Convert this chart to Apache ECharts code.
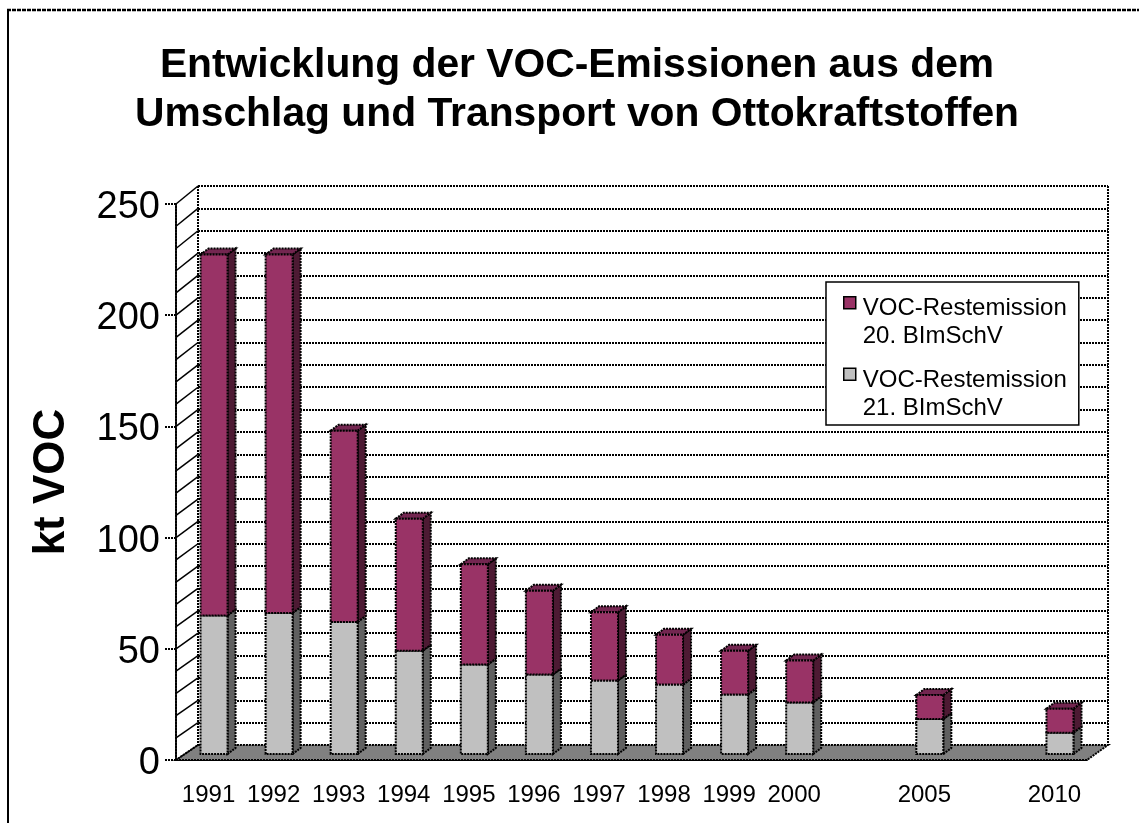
<!DOCTYPE html>
<html>
<head>
<meta charset="utf-8">
<title>VOC-Emissionen</title>
<script src="https://cdn.jsdelivr.net/npm/echarts@6/dist/echarts.min.js"></script>
<style>
  html, body { margin: 0; background: #fff; }
  #chart { width: 1139px; height: 823px; }
</style>
</head>
<body>
<div id="chart"></div>
<script>
const categories = ['1991', '1992', '1993', '1994', '1995', '1996', '1997', '1998', '1999', '2000', '', '2005', '', '2010'];
const rest21 = [62.3, 63.4, 59.4, 46.4, 40.2, 35.7, 33, 31.2, 26.8, 23.2, null, 15.7, null, 9.6];
const rest20 = [162.3, 161.2, 86, 59.4, 45.1, 37.7, 30.7, 22.4, 19.6, 18.8, null, 10.8, null, 10.8];
const wallLevels = [0, 10, 20, 30, 40, 50, 60, 70, 80, 90, 100, 110, 120, 130, 140, 150, 160, 170, 180, 190, 200, 210, 220, 230, 240, 250];

const NAME_20 = 'VOC-Restemission\n20. BImSchV';
const NAME_21 = 'VOC-Restemission\n21. BImSchV';
const FONT = '"Liberation Sans", Arial, sans-serif';
const DASH = [2, 1];

const myChart = echarts.init(document.getElementById('chart'), null, { renderer: 'canvas' });

// one 3d box: front face, side face and (only on the top segment) a lid
function boxRenderer(front, side, lid) {
  return function (params, api) {
    if (api.value(2) == null || isNaN(api.value(2))) return;
    const i = api.value(0);
    const low = api.coord([i, api.value(1)]);
    const high = api.coord([i, api.value(2)]);
    const x0 = low[0] - 8;
    const x1 = low[0] + 19;
    const yb = low[1] - 6;
    const yt = high[1] - 6;
    const edge = { stroke: '#000', lineWidth: 2, lineDash: DASH };
    const children = [
      { type: 'polygon', shape: { points: [[x1, yb], [x1 + 8, yb - 6], [x1 + 8, yt - 6], [x1, yt]] }, style: Object.assign({ fill: side }, edge) }
    ];
    if (lid) {
      children.push({ type: 'polygon', shape: { points: [[x0, yt], [x0 + 8, yt - 6], [x1 + 8, yt - 6], [x1, yt]] }, style: Object.assign({ fill: lid }, edge) });
    }
    children.push({ type: 'rect', shape: { x: x0, y: yt, width: x1 - x0, height: yb - yt }, style: Object.assign({ fill: front }, edge) });
    return { type: 'group', children: children };
  };
}

const option = {
  animation: false,
  backgroundColor: '#fff',
  title: {
    text: 'Entwicklung der VOC-Emissionen aus dem\nUmschlag und Transport von Ottokraftstoffen',
    left: 577,
    top: 41,
    padding: 0,
    textAlign: 'center',
    textStyle: { fontFamily: FONT, fontSize: 40.8, fontWeight: 'bold', lineHeight: 49, color: '#000' }
  },
  legend: {
    orient: 'vertical',
    left: 826,
    top: 282,
    padding: [12, 12, 2, 17],
    itemGap: 14,
    itemWidth: 12,
    itemHeight: 56,
    selectedMode: false,
    backgroundColor: '#fff',
    borderColor: '#000',
    borderWidth: 1.5,
    itemStyle: { borderColor: '#000', borderWidth: 1.5 },
    textStyle: { fontFamily: FONT, fontSize: 24, lineHeight: 28, color: '#000', padding: [0, 0, 0, 2] },
    data: [
      { name: NAME_20, icon: 'path://M0 0M0 2H12V14H0ZM12 56' },
      { name: NAME_21, icon: 'path://M0 0M0 2H12V14H0ZM12 56' }
    ]
  },
  graphic: [
    { type: 'line', shape: { x1: 7, y1: 10, x2: 1139, y2: 10 }, style: { stroke: '#000', lineWidth: 2.5, lineDash: [4, 1] } },
    { type: 'line', shape: { x1: 8, y1: 10, x2: 8, y2: 823 }, style: { stroke: '#000', lineWidth: 2 } }
  ],
  grid: [
    { left: 198, top: 186, width: 910, height: 559 },
    { left: 176, top: 204, width: 911, height: 556 }
  ],
  xAxis: [
    {
      gridIndex: 0,
      type: 'value',
      min: 0,
      max: 1,
      interval: 1,
      axisLine: { show: false },
      axisTick: { show: false },
      axisLabel: { show: false },
      splitLine: { show: true, lineStyle: { color: '#000', width: 2, type: DASH } }
    },
    {
      gridIndex: 1,
      type: 'category',
      data: categories,
      boundaryGap: true,
      axisLine: { lineStyle: { color: '#000', width: 2, type: DASH } },
      axisTick: { length: 11, interval: 0, lineStyle: { color: '#000', width: 2, type: DASH } },
      axisLabel: { interval: 0, margin: 23, fontFamily: FONT, fontSize: 24, color: '#000' },
      splitLine: { show: false }
    }
  ],
  yAxis: [
    {
      gridIndex: 0,
      type: 'value',
      min: 0,
      max: 250,
      interval: 10,
      axisLine: { show: false },
      axisTick: { show: false },
      axisLabel: { show: false },
      splitLine: { show: true, lineStyle: { color: '#000', width: 2, type: DASH } }
    },
    {
      gridIndex: 1,
      type: 'value',
      min: 0,
      max: 250,
      interval: 50,
      name: 'kt VOC',
      nameLocation: 'middle',
      nameGap: 102,
      nameRotate: 90,
      nameTextStyle: { fontFamily: FONT, fontSize: 44, fontWeight: 'bold', color: '#000' },
      axisLine: { show: true, lineStyle: { color: '#000', width: 2, type: DASH } },
      axisTick: { show: true, length: 11, lineStyle: { color: '#000', width: 2, type: DASH } },
      axisLabel: { margin: 16, fontFamily: FONT, fontSize: 38, color: '#000', verticalAlign: 'top', lineHeight: 7 },
      splitLine: { show: false }
    }
  ],
  series: [
    {
      // floor plate
      type: 'custom',
      xAxisIndex: 1,
      yAxisIndex: 1,
      silent: true,
      z: 1,
      data: [0],
      renderItem: function (params, api) {
        const g = params.coordSys;
        const y = g.y + g.height;
        return {
          type: 'polygon',
          shape: { points: [[g.x, y], [g.x + g.width, y], [g.x + g.width + 21, y - 15], [g.x + 22, y - 15]] },
          style: { fill: '#808080', stroke: '#000', lineWidth: 2, lineDash: DASH }
        };
      }
    },
    {
      // slanted lines on the left wall
      type: 'custom',
      xAxisIndex: 1,
      yAxisIndex: 1,
      silent: true,
      z: 1,
      encode: { y: 0 },
      data: wallLevels,
      renderItem: function (params, api) {
        const v = api.value(0);
        const x = params.coordSys.x;
        const y = api.coord([0, v])[1];
        return {
          type: 'line',
          shape: { x1: x, y1: y, x2: x + 22, y2: y - 15 - 3 * v / 250 },
          style: { stroke: '#000', lineWidth: 1.5 }
        };
      }
    },
    {
      name: NAME_21,
      type: 'custom',
      xAxisIndex: 1,
      yAxisIndex: 1,
      silent: true,
      z: 3,
      itemStyle: { color: '#c0c0c0' },
      encode: { x: 0, y: 2 },
      data: categories.map((c, i) => [i, 0, rest21[i]]),
      renderItem: boxRenderer('#c0c0c0', '#606060', null)
    },
    {
      name: NAME_20,
      type: 'custom',
      xAxisIndex: 1,
      yAxisIndex: 1,
      silent: true,
      z: 4,
      itemStyle: { color: '#993366' },
      encode: { x: 0, y: 2 },
      data: categories.map((c, i) => [i, rest21[i], rest20[i] == null ? null : rest21[i] + rest20[i]]),
      renderItem: boxRenderer('#993366', '#4d1a33', '#732650')
    }
  ]
};
myChart.setOption(option);
</script>
</body>
</html>
